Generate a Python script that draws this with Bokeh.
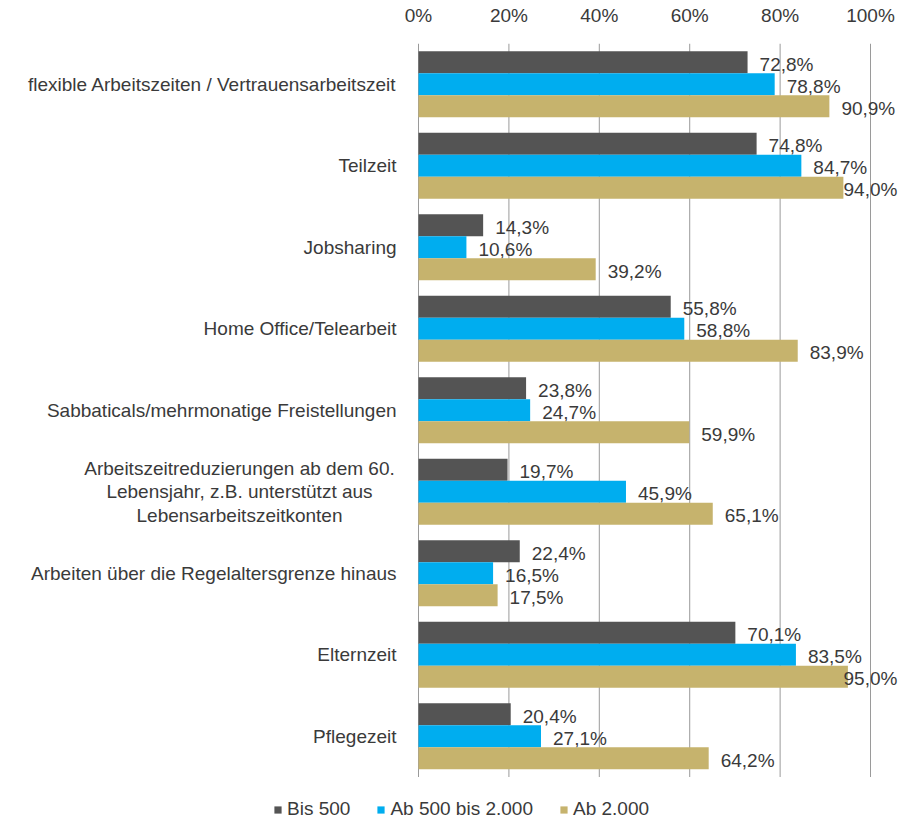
from bokeh.plotting import figure
from bokeh.models import ColumnDataSource, FixedTicker, PrintfTickFormatter, Legend, LegendItem, Range1d
from bokeh.core.properties import value
from bokeh.embed import file_html
from bokeh.resources import INLINE

categories = [
    "flexible Arbeitszeiten / Vertrauensarbeitszeit",
    "Teilzeit",
    "Jobsharing",
    "Home Office/Telearbeit",
    "Sabbaticals/mehrmonatige Freistellungen",
    "Arbeitszeitreduzierungen ab dem 60.\nLebensjahr, z.B. unterstützt aus\nLebensarbeitszeitkonten",
    "Arbeiten über die Regelaltersgrenze hinaus",
    "Elternzeit",
    "Pflegezeit",
]
series_names = ["Bis 500", "Ab 500 bis 2.000", "Ab 2.000"]
bis_500 = [72.8, 74.8, 14.3, 55.8, 23.8, 19.7, 22.4, 70.1, 20.4]
ab_500_bis_2000 = [78.8, 84.7, 10.6, 58.8, 24.7, 45.9, 16.5, 83.5, 27.1]
ab_2000 = [90.9, 94.0, 39.2, 83.9, 59.9, 65.1, 17.5, 95.0, 64.2]
tick_values = [0, 20, 40, 60, 80, 100]

colors = ["#545454", "#00ADEF", "#C6B36D"]
FONT = "Liberation Sans"
FS = "19px"
TXT = "#3a3a3a"

W, H = 905, 820
TOP = 43
X0, X1 = -92.48, -92.48 + W / 4.52
PX_PER_UNIT = W / (X1 - X0)

p = figure(width=W, height=H, output_backend="svg", toolbar_location=None,
           x_range=Range1d(X0, X1), y_range=Range1d(-0.5 + (H - TOP) / 81.5, -0.5),
           x_axis_location="above", y_axis_location=None,
           min_border_left=0, min_border_right=0, min_border_top=TOP, min_border_bottom=0)
p.outline_line_color = None
p.grid.visible = False
p.background_fill_color = "white"

ax = p.xaxis[0]
ax.ticker = FixedTicker(ticks=tick_values)
ax.formatter = PrintfTickFormatter(format="%d%%")
ax.axis_line_color = None
ax.major_tick_line_color = None
ax.minor_tick_line_color = None
ax.major_label_standoff = 12
ax.major_label_text_font = FONT
ax.major_label_text_font_size = FS
ax.major_label_text_color = TXT

# gridlines
p.segment(x0=tick_values, x1=tick_values, y0=[-0.5] * 6, y1=[8.5] * 6,
          line_color="#9a9a9a", line_width=1)

bw = 0.27
offsets = [-bw, 0, bw]
label_w = 55
right_limit = (X1 - X0) * PX_PER_UNIT - 7
renderers = []
for vals, off, col, name in zip([bis_500, ab_500_bis_2000, ab_2000], offsets, colors, series_names):
    ys = [i + off for i in range(len(categories))]
    xoffs = []
    for v in vals:
        start = (v - X0) * PX_PER_UNIT + 12
        if start + label_w > right_limit:
            start = right_limit - label_w
        xoffs.append(start - (v - X0) * PX_PER_UNIT)
    src = ColumnDataSource(dict(y=ys, right=vals, xo=xoffs,
                                lab=[("%.1f%%" % v).replace(".", ",") for v in vals]))
    r = p.hbar(y="y", left=0, right="right", height=bw, source=src,
               fill_color=col, line_color=None)
    renderers.append(r)
    p.text(x="right", y="y", text="lab", source=src, x_offset="xo", y_offset=2,
           text_align="left", text_baseline="middle", text_font=value(FONT),
           text_font_size=FS, text_color=TXT)

# category labels
single = [(i, c) for i, c in enumerate(categories) if "\n" not in c]
multi = [(i, c) for i, c in enumerate(categories) if "\n" in c]
p.text(x=[0] * len(single), y=[i for i, _ in single], text=[c for _, c in single],
       x_offset=-22, text_align="right", text_baseline="middle", text_font=value(FONT),
       text_font_size=FS, text_color=TXT)
p.text(x=[0] * len(multi), y=[i for i, _ in multi], text=[c for _, c in multi],
       x_offset=-179, text_align="center", text_baseline="middle", text_font=value(FONT),
       text_font_size=FS, text_color=TXT, text_line_height=1.12)

legend = Legend(items=[LegendItem(label=n, renderers=[r]) for n, r in zip(series_names, renderers)],
                orientation="horizontal", location=(273, 0), border_line_color=None,
                background_fill_alpha=0, padding=0, margin=0, spacing=26,
                glyph_width=9, glyph_height=9, label_standoff=5,
                label_text_font=FONT, label_text_font_size=FS, label_text_color=TXT)
p.add_layout(legend, "center")

open("out.html", "w").write(file_html(p, INLINE))
